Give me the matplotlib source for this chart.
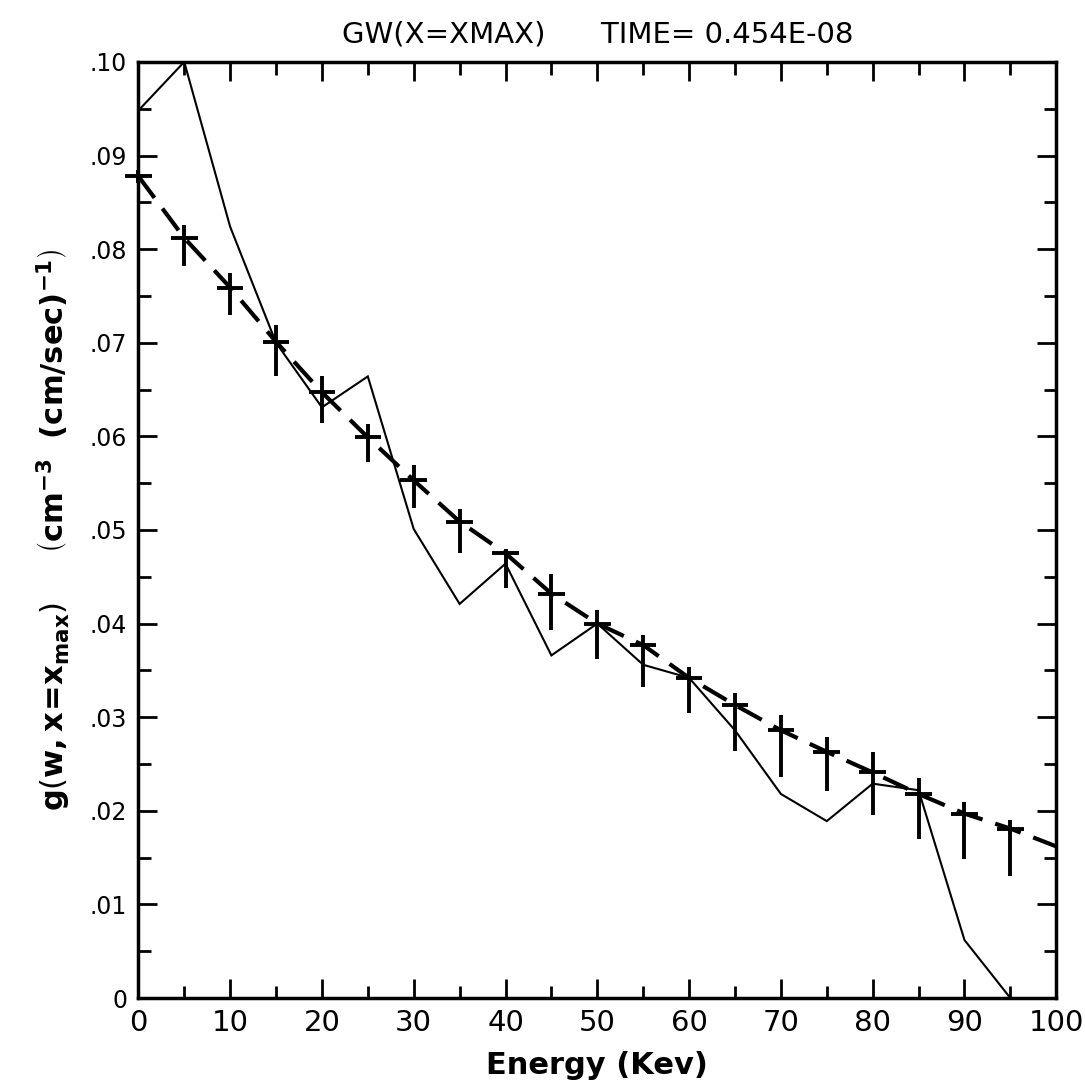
import matplotlib
matplotlib.use("Agg")
import matplotlib.pyplot as plt
import numpy as np
from matplotlib.ticker import MultipleLocator, FuncFormatter

# ---- data ----
energy_solid = [0, 5, 10, 15, 20, 25, 30, 35, 40, 45, 50, 55, 60, 65, 70, 75, 80, 85, 90, 95]
g_solid = [0.0948, 0.1000, 0.0824, 0.0700, 0.0631, 0.0664, 0.0501, 0.0421, 0.0464, 0.0366,
           0.0400, 0.0356, 0.0342, 0.0286, 0.0218, 0.0189, 0.0229, 0.0222, 0.0062, 0.0000]

energy_fit = [0, 5, 10, 15, 20, 25, 30, 35, 40, 45, 50, 55, 60, 65, 70, 75, 80, 85, 90, 95, 100]
g_fit = [0.0878, 0.0812, 0.0759, 0.0701, 0.0647, 0.0599, 0.0553, 0.0509, 0.0475, 0.0432,
         0.0400, 0.0377, 0.0342, 0.0313, 0.0286, 0.0263, 0.0241, 0.0218, 0.0197, 0.0181, 0.0162]

energy_err = [5, 10, 15, 20, 25, 30, 35, 40, 45, 50, 55, 60, 65, 70, 75, 80, 85, 90, 95]
g_err = [0.0812, 0.0759, 0.0701, 0.0647, 0.0599, 0.0553, 0.0509, 0.0475, 0.0432, 0.0400,
         0.0377, 0.0342, 0.0313, 0.0286, 0.0263, 0.0241, 0.0218, 0.0197, 0.0181]
g_upper = [0.0826, 0.0775, 0.0719, 0.0665, 0.0613, 0.0569, 0.0522, 0.0480, 0.0453, 0.0415,
           0.0388, 0.0354, 0.0326, 0.0302, 0.0279, 0.0263, 0.0235, 0.0209, 0.0190]
g_lower = [0.0782, 0.0730, 0.0665, 0.0614, 0.0573, 0.0523, 0.0475, 0.0438, 0.0393, 0.0362,
           0.0332, 0.0305, 0.0264, 0.0236, 0.0221, 0.0196, 0.0170, 0.0149, 0.0130]
x_halfwidth = 1.45

title_text = "GW(X=XMAX)      TIME= 0.454E-08"
xlabel_text = "Energy (Kev)"
x_ticks = [0, 10, 20, 30, 40, 50, 60, 70, 80, 90, 100]
y_ticks = [0, 0.01, 0.02, 0.03, 0.04, 0.05, 0.06, 0.07, 0.08, 0.09, 0.10]

# ---- figure ----
fig = plt.figure(figsize=(10.85, 10.86), dpi=100)
ax = fig.add_axes([0.1275, 0.081, 0.846, 0.862])

narrow = ['Liberation Sans Narrow', 'DejaVu Sans']

ax.plot(energy_solid, g_solid, color='black', lw=1.5, solid_joinstyle='miter')
line, = ax.plot(energy_fit, g_fit, color='black', lw=3.0)
line.set_dashes((6.5, 3.2))

err_lo = np.array(g_err) - np.array(g_lower)
err_hi = np.array(g_upper) - np.array(g_err)
ax.errorbar(energy_err, g_err, yerr=[err_lo, err_hi], xerr=x_halfwidth,
            fmt='none', ecolor='black', elinewidth=2.8, capsize=0)
# marker at the origin point (no visible error bar)
ax.errorbar([energy_fit[0]], [g_fit[0]], xerr=x_halfwidth, yerr=0.0007,
            fmt='none', ecolor='black', elinewidth=2.8, capsize=0, clip_on=False)

ax.set_xlim(0, 100)
ax.set_ylim(0, 0.10)
ax.set_xticks(x_ticks)
ax.set_yticks(y_ticks)
ax.xaxis.set_minor_locator(MultipleLocator(5))
ax.yaxis.set_minor_locator(MultipleLocator(0.005))

def yfmt(v, pos):
    if abs(v) < 1e-9:
        return "0"
    return ("%.2f" % v)[1:]

ax.yaxis.set_major_formatter(FuncFormatter(yfmt))
ax.tick_params(which='both', direction='in', top=True, right=True, width=2.0, color='black')
ax.tick_params(which='major', length=14)
ax.tick_params(which='minor', length=9)
ax.tick_params(axis='x', which='major', pad=8)
ax.tick_params(axis='y', which='major', pad=8)
for lab in ax.get_xticklabels():
    lab.set_family(narrow)
    lab.set_fontsize(21)
for lab in ax.get_yticklabels():
    lab.set_family(['DejaVu Sans'])
    lab.set_fontsize(17)
for sp in ax.spines.values():
    sp.set_linewidth(2.5)

ax.set_title(title_text, family=narrow, fontsize=21, pad=14)
ax.set_xlabel(xlabel_text, fontsize=22, fontweight='bold', labelpad=10)
ax.set_ylabel(r"$\mathbf{g\left(w, x\!=\!x_{max}\right)}$     $\mathbf{\left(cm^{-3}\ \ (cm/sec)^{-1}\right)}$",
              fontsize=22, labelpad=12)

fig.savefig("out.png", dpi=100)
